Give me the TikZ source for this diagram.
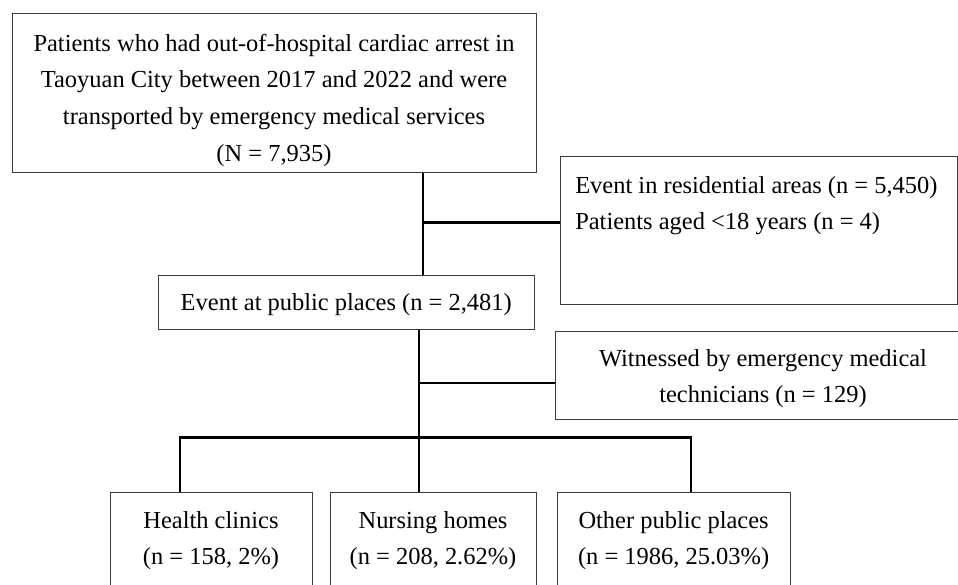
\documentclass[tikz,border=0pt]{standalone}
\usepackage{fontspec}
\setmainfont{Liberation Serif}
\usepackage{tikz}
\usetikzlibrary{positioning,calc}
\definecolor{ink}{HTML}{000000}
\definecolor{frameline}{HTML}{3A3A3A}
\tikzset{
  boxframe/.style={draw=frameline,line width=0.9pt,inner sep=0pt,anchor=north west},
  boxtext/.style={font=\fontsize{17.4}{26.1}\selectfont,ink,inner sep=0pt,
                  align=center,anchor=base},
  linkthin/.style={ink,line width=1.1pt},
  linkthick/.style={ink,line width=1.9pt},
}
\begin{document}
\begin{tikzpicture}
  \fill[white](0,0)rectangle(23.95,14.6);
  \useasboundingbox(0,0)rectangle(23.95,14.6);

  % Frames
  \node[boxframe,minimum width=13.11cm,minimum height=3.96cm](pop)at(0.29,14.27){};
  \node[boxframe,minimum width=9.93cm,minimum height=3.7cm](resid)at(14.0,10.7){};
  \node[boxframe,minimum width=9.4cm,minimum height=1.35cm](public)at(3.95,7.725){};
  \node[boxframe,minimum width=10.4cm,minimum height=2.21cm](emt)at(13.875,6.335){};
  \node[boxframe,minimum width=5.05cm,minimum height=2.7cm](clinic)at(2.75,2.3){};
  \node[boxframe,minimum width=5.15cm,minimum height=2.7cm](nursing)at(8.25,2.3){};
  \node[boxframe,minimum width=5.82cm,minimum height=2.7cm](other)at(13.93,2.3){};

  % Texts (anchored on the baseline of the last line)
  \node[boxtext](popT)at(6.85,10.5675){%
    Patients who had out-of-hospital cardiac arrest in\\
    Taoyuan City between 2017 and 2022 and were\\
    transported by emergency medical services\\
    (N = 7,935)};
  \node[boxtext,anchor=base west,align=left](residT)at(14.375,8.85){%
    Event in residential areas (n = 5,450)\\
    Patients aged <18 years (n = 4)};
  \node[boxtext](publicT)at(8.656,6.825){Event at public places (n = 2,481)};
  \node[boxtext](emtT)at(19.075,4.525){%
    Witnessed by emergency medical\\technicians (n = 129)};
  \node[boxtext](clinicT)at(5.275,0.475){Health clinics\\(n = 158, 2\%)};
  \node[boxtext](nursingT)at(10.825,0.475){Nursing homes\\(n = 208, 2.62\%)};
  \node[boxtext](otherT)at(16.84,0.475){Other public places\\(n = 1986, 25.03\%)};

  % Junctions
  \coordinate(jA)at(10.575,9.0425);
  \coordinate(jB)at(10.475,5.025);
  \coordinate(barL)at(4.5,3.6675);
  \coordinate(barR)at(17.275,3.6675);

  % Connectors
  \draw[linkthin](pop.south -| jA)--(public.north -| jA);
  \draw[linkthick](jA)--(jA -| resid.west);
  \draw[linkthin](public.south -| jB)--(nursing.north -| jB);
  \draw[linkthin](jB)--(jB -| emt.west);
  \draw[linkthick](clinic.north -| barL)--(barL)--(barR)--(other.north -| barR);
\end{tikzpicture}
\end{document}
